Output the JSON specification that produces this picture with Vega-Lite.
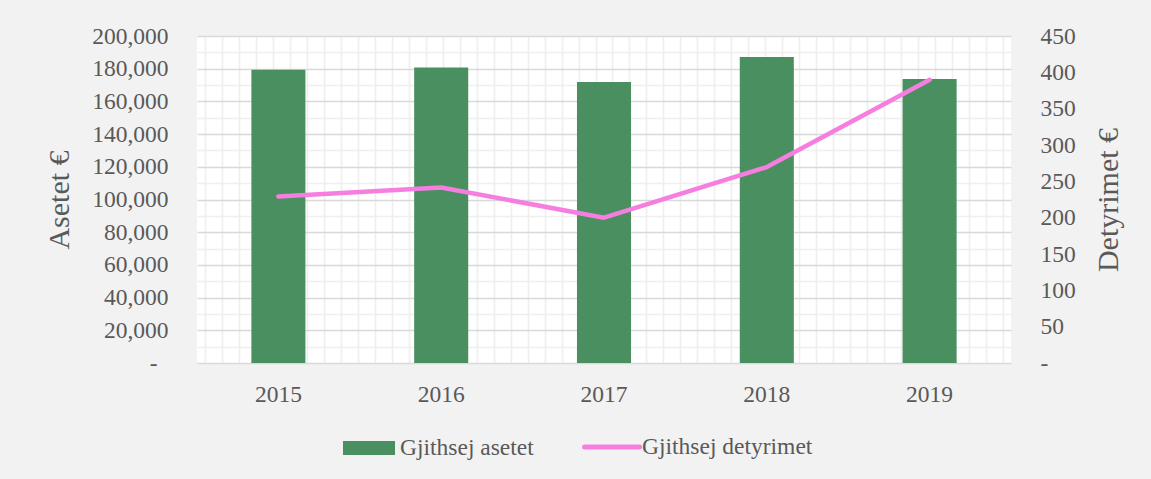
{
  "$schema": "https://vega.github.io/schema/vega-lite/v6.json",
  "width": 814,
  "height": 327,
  "autosize": {"type": "none"},
  "padding": {"left": 197, "top": 36, "right": 140, "bottom": 116},
  "background": "#f2f2f2",
  "config": {
    "font": "Liberation Serif",
    "view": {"fill": "#ffffff", "stroke": null},
    "axis": {"labelColor": "#595959", "titleColor": "#595959", "labelFont": "Liberation Serif", "titleFont": "Liberation Serif", "titleFontWeight": "normal"},
    "legend": {"labelColor": "#595959", "labelFont": "Liberation Serif"}
  },
  "datasets": {
    "main": [
      {"year": "2015", "assets": 179400, "liab": 229},
      {"year": "2016", "assets": 180800, "liab": 241.5},
      {"year": "2017", "assets": 171900, "liab": 200},
      {"year": "2018", "assets": 187200, "liab": 269.6},
      {"year": "2019", "assets": 173700, "liab": 389.8}
    ],
    "grid": [{"g": 0, "v": 0}]
  },
  "layer": [
    {
      "data": {"name": "grid"},
      "mark": {"type": "point", "opacity": 0},
      "encoding": {
        "x": {
          "field": "g", "type": "quantitative",
          "scale": {"domain": [-0.45, 47.45], "nice": false, "zero": false},
          "axis": {"orient": "bottom", "values": [0,1,2,3,4,5,6,7,8,9,10,11,12,13,14,15,16,17,18,19,20,21,22,23,24,25,26,27,28,29,30,31,32,33,34,35,36,37,38,39,40,41,42,43,44,45,46,47], "grid": true, "gridColor": "#efefef", "gridWidth": 1.6, "labels": false, "ticks": false, "domain": false, "title": null}
        },
        "y": {
          "field": "v", "type": "quantitative",
          "scale": {"domain": [0, 200000], "nice": false},
          "axis": {"orient": "left", "values": [10000,30000,50000,70000,90000,110000,130000,150000,170000,190000], "grid": true, "gridColor": "#efefef", "gridWidth": 1.6, "labels": false, "ticks": false, "domain": false, "title": null}
        }
      }
    },
    {
      "data": {"name": "main"},
      "mark": {"type": "bar", "color": "#4a8f5f"},
      "encoding": {
        "x": {
          "field": "year", "type": "nominal",
          "scale": {"paddingInner": 0.668, "paddingOuter": 0.334},
          "axis": {"orient": "bottom", "title": null, "labelAngle": 0, "labelFontSize": 23.5, "labelPadding": 19, "ticks": false, "domain": false, "grid": false}
        },
        "y": {
          "field": "assets", "type": "quantitative",
          "scale": {"domain": [0, 200000], "nice": false},
          "axis": {"orient": "left", "values": [0,20000,40000,60000,80000,100000,120000,140000,160000,180000,200000], "labelExpr": "datum.value == 0 ? '-' : format(datum.value, ',')", "labelFontSize": 23.5, "labelPadding": {"condition": {"test": "datum.value == 0", "value": 40}, "value": 29}, "ticks": false, "domain": false, "grid": true, "gridColor": "#d9d9d9", "gridWidth": 1.6, "title": "Asetet €", "titleFontSize": 30, "titlePadding": 17}
        },
        "fill": {
          "datum": "Gjithsej asetet",
          "scale": {"range": ["#4a8f5f"]},
          "legend": {"orient": "none", "legendX": 146, "legendY": 386, "padding": 0, "title": null, "symbolType": "M-1,-0.27H1V0.27H-1Z", "symbolSize": 2704, "symbolStrokeWidth": 0, "labelFontSize": 23.5, "labelOffset": 5, "labelLimit": 400}
        }
      }
    },
    {
      "data": {"name": "main"},
      "mark": {"type": "line", "strokeWidth": 4.5, "strokeCap": "round", "strokeJoin": "round"},
      "encoding": {
        "x": {
          "field": "year", "type": "nominal",
          "scale": {"paddingInner": 0.668, "paddingOuter": 0.334},
          "axis": null
        },
        "y": {
          "field": "liab", "type": "quantitative",
          "scale": {"domain": [0, 450], "nice": false},
          "axis": {"orient": "right", "values": [0,50,100,150,200,250,300,350,400,450], "labelExpr": "datum.value == 0 ? '-' : datum.label", "labelFontSize": 23.5, "labelPadding": 29, "ticks": false, "domain": false, "grid": false, "title": "Detyrimet €", "titleFontSize": 30, "titleAngle": 270, "titlePadding": 48}
        },
        "stroke": {
          "datum": "Gjithsej detyrimet",
          "scale": {"range": ["#f57ee0"]},
          "legend": {"orient": "none", "legendX": 385, "legendY": 381, "padding": 0, "title": null, "symbolType": "stroke", "symbolSize": 3025, "symbolStrokeWidth": 5, "labelFontSize": 23.5, "labelOffset": 0, "labelLimit": 400, "encode": {"symbols": {"update": {"strokeCap": {"value": "round"}}}}}
        }
      }
    }
  ],
  "resolve": {"scale": {"x": "independent", "y": "independent", "fill": "independent", "stroke": "independent"}}
}
